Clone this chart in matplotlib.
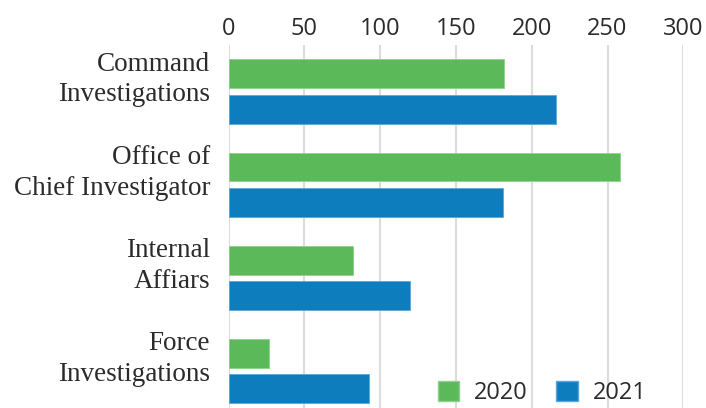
import numpy as np
import matplotlib.pyplot as plt
from matplotlib.patches import Patch

# data
categories = ["Command\nInvestigations", "Office of\nChief Investigator", "Internal\nAffiars", "Force\nInvestigations"]
values_2020 = [182, 258, 82, 27]
values_2021 = [216, 181, 120, 93]
series_labels = ["2020", "2021"]
xticks = [0, 50, 100, 150, 200, 250, 300]

green = "#5cb95a"
blue = "#0e7dbd"
text_color = "#2b2b2b"

if __name__ == '__main__':
    fig = plt.figure(figsize=(7.06, 4.08), dpi=100)
    ax = fig.add_axes([228.5 / 706, 1 - 417.6 / 408, (683.3 - 228.5) / 706, 372.6 / 408])

    y = np.arange(len(categories))
    off = 0.19
    h = 0.31
    ax.barh(y - off, values_2020, height=h, color=green, edgecolor="#8fd18c", linewidth=0.6, zorder=3)
    ax.barh(y + off, values_2021, height=h, color=blue, edgecolor="#5aa8d8", linewidth=0.6, zorder=3)

    ax.set_xlim(0, 300)
    ax.set_ylim(len(categories) - 0.5, -0.5)

    # x axis on top, no spines, light vertical grid
    ax.xaxis.set_ticks_position("top")
    ax.set_xticks(xticks)
    ax.set_xticklabels([str(t) for t in xticks], fontsize=17, color=text_color, family="Open Sans")
    ax.tick_params(axis="x", length=0, pad=3)
    ax.set_yticks([])
    for s in ax.spines.values():
        s.set_visible(False)
    ax.grid(axis="x", color="#dcdcdc", linewidth=1.5, zorder=0)
    ax.set_axisbelow(True)

    # category labels, right aligned left of the axes, nudged upward
    for i, c in enumerate(categories):
        ax.annotate(c, xy=(0, i), xycoords=("axes fraction", "data"),
                    xytext=(-13.3, 8.6), textcoords="offset points",
                    ha="right", va="center", fontsize=19.5, color=text_color,
                    family="Liberation Serif", linespacing=1.3)

    handles = [Patch(facecolor=green, edgecolor="#8fd18c"), Patch(facecolor=blue, edgecolor="#5aa8d8")]
    fig.legend(handles, series_labels, loc="lower left", bbox_to_anchor=(437.7 / 706, 1 - 405 / 408),
               ncol=2, frameon=False, borderpad=0, borderaxespad=0,
               handlelength=0.9, handleheight=0.9,
               handletextpad=0.65, columnspacing=1.2,
               prop={"family": "Open Sans", "size": 17}, labelcolor=text_color)

    fig.savefig("out.png", dpi=100)
